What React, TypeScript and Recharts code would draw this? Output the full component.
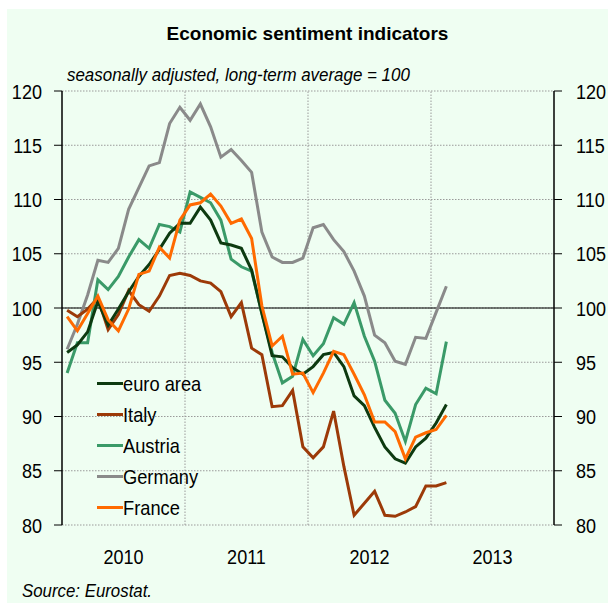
import React from "react";
import {
  LineChart,
  Line,
  XAxis,
  YAxis,
  CartesianGrid,
  ReferenceLine,
} from "recharts";

// Monthly observations, Jan 2010 – Feb 2013
const MONTHS: string[] = [
  "2010-01","2010-02","2010-03","2010-04","2010-05","2010-06","2010-07","2010-08","2010-09","2010-10","2010-11","2010-12",
  "2011-01","2011-02","2011-03","2011-04","2011-05","2011-06","2011-07","2011-08","2011-09","2011-10","2011-11","2011-12",
  "2012-01","2012-02","2012-03","2012-04","2012-05","2012-06","2012-07","2012-08","2012-09","2012-10","2012-11","2012-12",
  "2013-01","2013-02",
];

const EURO_AREA: number[] = [
  95.9, 96.6, 97.8, 100.6, 98.4, 99.9, 101.5, 102.9, 104.0, 105.4, 106.9, 107.8,
  107.8, 109.3, 108.1, 106.0, 105.8, 105.5, 103.5, 99.5, 95.6, 95.5, 94.5, 93.9,
  94.6, 95.7, 95.9, 94.6, 91.9, 91.0, 89.0, 87.2, 86.1, 85.7, 87.2, 88.0,
  89.4, 91.1,
];
const ITALY: number[] = [
  99.8, 99.2, 99.9, 100.9, 98.0, 99.4, 101.6, 100.3, 99.7, 101.1, 103.0, 103.2,
  103.0, 102.5, 102.3, 101.5, 99.2, 100.5, 96.3, 95.7, 90.9, 91.0, 92.4, 87.2,
  86.2, 87.2, 90.5, 85.4, 80.9, 82.0, 83.1, 80.9, 80.8, 81.2, 81.7, 83.6,
  83.6, 83.9,
];
const AUSTRIA: number[] = [
  94.0, 96.8, 96.8, 102.6, 101.7, 102.9, 104.7, 106.3, 105.5, 107.7, 107.5, 107.0,
  110.7, 110.2, 109.7, 108.1, 104.5, 103.8, 103.4, 99.5, 95.9, 93.1, 93.7, 97.1,
  95.6, 96.7, 99.1, 98.5, 100.5, 97.4, 95.1, 91.5, 90.3, 87.7, 91.1, 92.6,
  92.1, 96.9,
];
const GERMANY: number[] = [
  96.2, 98.5, 101.2, 104.4, 104.2, 105.5, 109.1, 111.1, 113.1, 113.4, 117.0, 118.5,
  117.3, 118.8, 116.7, 113.9, 114.6, 113.6, 112.5, 107.0, 104.7, 104.2, 104.2, 104.6,
  107.4, 107.7, 106.3, 105.2, 103.4, 101.1, 97.5, 96.8, 95.1, 94.8, 97.3, 97.2,
  99.6, 102.0,
];
const FRANCE: number[] = [
  99.2, 97.9, 99.5, 101.1, 98.9, 97.9, 99.9, 103.1, 103.4, 105.6, 104.6, 108.1,
  109.5, 109.7, 110.5, 109.4, 107.8, 108.2, 106.4, 100.2, 96.5, 97.4, 93.9, 94.0,
  92.2, 94.0, 96.0, 95.7, 93.9, 92.0, 89.5, 89.5, 88.6, 86.1, 88.1, 88.5,
  88.8, 90.1,
];

const YEAR_LABELS: string[] = ["2010", "2011", "2012", "2013"];
const Y_TICKS: number[] = [80, 85, 90, 95, 100, 105, 110, 115, 120];

const SERIES = [
  { key: "euro", name: "euro area", color: "#0d3a10" },
  { key: "italy", name: "Italy", color: "#9c3a08" },
  { key: "austria", name: "Austria", color: "#3a9a68" },
  { key: "germany", name: "Germany", color: "#8a8a8a" },
  { key: "france", name: "France", color: "#ff6a00" },
];
// drawing order (last on top) and which y axis each line is attached to (identical scales)
const DRAW_ORDER: { key: string; axis: string }[] = [
  { key: "germany", axis: "left" },
  { key: "italy", axis: "left" },
  { key: "austria", axis: "left" },
  { key: "euro", axis: "left" },
  { key: "france", axis: "right" },
];

const data = MONTHS.map((m, i) => ({
  month: m,
  t: i + 0.5,
  euro: EURO_AREA[i],
  italy: ITALY[i],
  austria: AUSTRIA[i],
  germany: GERMANY[i],
  france: FRANCE[i],
}));

const FONT = "'Liberation Sans', Arial, sans-serif";
const BG = "#effef2";
const NARROW = 0.86;

const YEAR_MID_TICKS = YEAR_LABELS.map((_, i) => i * 12 + 6);
const YEAR_BOUNDARIES = [12, 24, 36];

const makeYTick = (anchor: "start" | "end") => (props: any) => {
  const { x, y, payload } = props;
  return (
    <text
      x={0}
      y={0}
      dy="0.36em"
      transform={`translate(${x},${y}) scale(${NARROW},1)`}
      textAnchor={anchor}
      fontSize={21}
      fontFamily={FONT}
      fill="#000"
    >
      {payload.value}
    </text>
  );
};
const LeftTick = makeYTick("end");
const RightTick = makeYTick("start");

const XTick = (props: any) => {
  const { x, y, payload } = props;
  return (
    <text
      x={0}
      y={0}
      dy="0.71em"
      transform={`translate(${x},${y}) scale(${NARROW},1)`}
      textAnchor="middle"
      fontSize={21}
      fontFamily={FONT}
      fill="#000"
    >
      {YEAR_LABELS[Math.floor(payload.value / 12)]}
    </text>
  );
};

const narrowText = (scale: number): React.CSSProperties => ({
  transform: `scaleX(${scale})`,
  transformOrigin: "left center",
  whiteSpace: "nowrap",
});

export default function App() {
  const W = 601;
  const H = 594;
  return (
    <div
      style={{
        position: "absolute",
        left: 7,
        top: 9,
        width: W,
        height: H,
        background: BG,
        fontFamily: FONT,
        overflow: "hidden",
      }}
    >
      <div
        style={{
          position: "absolute",
          left: 0,
          width: W,
          top: 14,
          textAlign: "center",
          fontWeight: "bold",
          fontSize: 19,
          color: "#000",
        }}
      >
        Economic sentiment indicators
      </div>
      <div
        style={{
          position: "absolute",
          left: 60,
          top: 56,
          fontStyle: "italic",
          fontSize: 18,
          color: "#000",
          ...narrowText(0.94),
        }}
      >
        seasonally adjusted, long-term average = 100
      </div>
      <div
        style={{
          position: "absolute",
          left: 15,
          top: 572,
          fontStyle: "italic",
          fontSize: 18,
          color: "#000",
          ...narrowText(0.935),
        }}
      >
        Source: Eurostat.
      </div>
      <div style={{ position: "absolute", left: 0, top: 0 }}>
        <LineChart
          width={W}
          height={H}
          data={data}
          margin={{ top: 82, right: 0, bottom: 0, left: 0 }}
        >
          <XAxis
            type="number"
            dataKey="t"
            domain={[0, 48]}
            ticks={YEAR_MID_TICKS}
            axisLine={false}
            tickLine={false}
            tickSize={0}
            tickMargin={24}
            height={78}
            tick={<XTick />}
            interval={0}
          />
          <YAxis
            yAxisId="left"
            domain={[80, 120]}
            ticks={Y_TICKS}
            width={55}
            axisLine={{ stroke: "#000", strokeWidth: 1.5 }}
            tickLine={{ stroke: "#000" }}
            tickSize={8}
            tickMargin={12}
            tick={<LeftTick />}
            interval={0}
          />
          <YAxis
            yAxisId="right"
            orientation="right"
            domain={[80, 120]}
            ticks={Y_TICKS}
            width={54}
            axisLine={{ stroke: "#000", strokeWidth: 1.5 }}
            tickLine={{ stroke: "#000" }}
            tickSize={8}
            tickMargin={14}
            tick={<RightTick />}
            interval={0}
          />
          <CartesianGrid
            yAxisId="left"
            vertical={false}
            stroke="#9a9a9a"
            strokeDasharray="1.5 1.5"
          />
          {YEAR_BOUNDARIES.map((b) => (
            <ReferenceLine
              key={b}
              yAxisId="left"
              x={b}
              stroke="#9a9a9a"
              strokeDasharray="1.5 1.5"
            />
          ))}
          <ReferenceLine yAxisId="left" y={100} stroke="#000" strokeWidth={1.2} />
          {DRAW_ORDER.map((d) => {
            const s = SERIES.find((x) => x.key === d.key)!;
            return (
              <Line
                key={s.key}
                yAxisId={d.axis}
                type="linear"
                dataKey={s.key}
                name={s.name}
                stroke={s.color}
                strokeWidth={3}
                dot={false}
                activeDot={false}
                isAnimationActive={false}
              />
            );
          })}
        </LineChart>
      </div>
      <div style={{ position: "absolute", left: 90, top: 359, fontSize: 21, color: "#000" }}>
        {SERIES.map((s) => (
          <div key={s.key} style={{ display: "flex", alignItems: "center", height: 31 }}>
            <div style={{ width: 26, height: 3.5, background: s.color, flex: "none" }} />
            <span style={{ lineHeight: "21px", ...narrowText(0.87) }}>{s.name}</span>
          </div>
        ))}
      </div>
    </div>
  );
}
